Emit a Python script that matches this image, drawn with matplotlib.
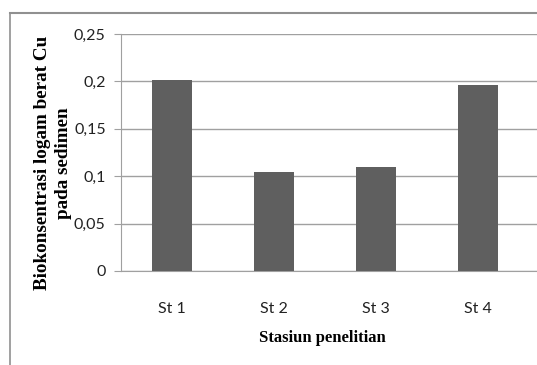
import matplotlib.pyplot as plt
import numpy as np
from matplotlib.lines import Line2D

# data
stations = ["St 1", "St 2", "St 3", "St 4"]
cu_values = [0.201, 0.104, 0.110, 0.196]
y_ticks = [0, 0.05, 0.1, 0.15, 0.2, 0.25]
y_tick_labels = ["0", "0,05", "0,1", "0,15", "0,2", "0,25"]

fig = plt.figure(figsize=(5.37, 3.65), dpi=100)
ax = fig.add_axes([121 / 537, 1 - 271 / 365, 1 - 121 / 537, (271 - 34) / 365])

x_pos = np.arange(len(stations))
ax.grid(axis='y', color='#a0a0a0', linewidth=1.0, zorder=0)
ax.bar(x_pos, cu_values, width=0.39, color='#5f5f5f', zorder=3)

ax.set_ylim(0, 0.25)
ax.set_xlim(-0.5, 3.58)
ax.set_yticks(y_ticks, labels=y_tick_labels)
ax.set_xticks(x_pos, labels=stations)
ax.tick_params(axis='y', length=5, color='#a0a0a0', pad=6, labelsize=11.5)
ax.tick_params(axis='x', length=0, pad=22, labelsize=11.5)
for lbl in ax.get_xticklabels() + ax.get_yticklabels():
    lbl.set_family('Lato')
    lbl.set_color('#222222')

for side in ['top', 'right']:
    ax.spines[side].set_visible(False)
ax.spines['left'].set_color('#a0a0a0')
ax.spines['bottom'].set_color('#a0a0a0')

# y label drawn as two lines so the gap between them matches
ylab_style = dict(rotation=90, ha='center', va='center', family='Liberation Serif',
                  fontweight='bold', fontsize=13.8)
fig.text(43 / 537, 1 - 163 / 365, "Biokonsentrasi logam berat Cu", **ylab_style)
fig.text(63 / 537, 1 - 163 / 365, "pada sedimen", **ylab_style)
fig.text(322 / 537, 1 - 338 / 365, "Stasiun penelitian", ha='center', va='center',
         family='Liberation Serif', fontweight='bold', fontsize=12)

# outer frame (top and left edges of the chart box)
fig.add_artist(Line2D([10 / 537, 1], [1 - 13 / 365, 1 - 13 / 365], color='#909090', linewidth=1.5))
fig.add_artist(Line2D([10 / 537, 10 / 537], [1 - 13 / 365, 0], color='#909090', linewidth=1.2))

plt.savefig("out.png", dpi=100)
